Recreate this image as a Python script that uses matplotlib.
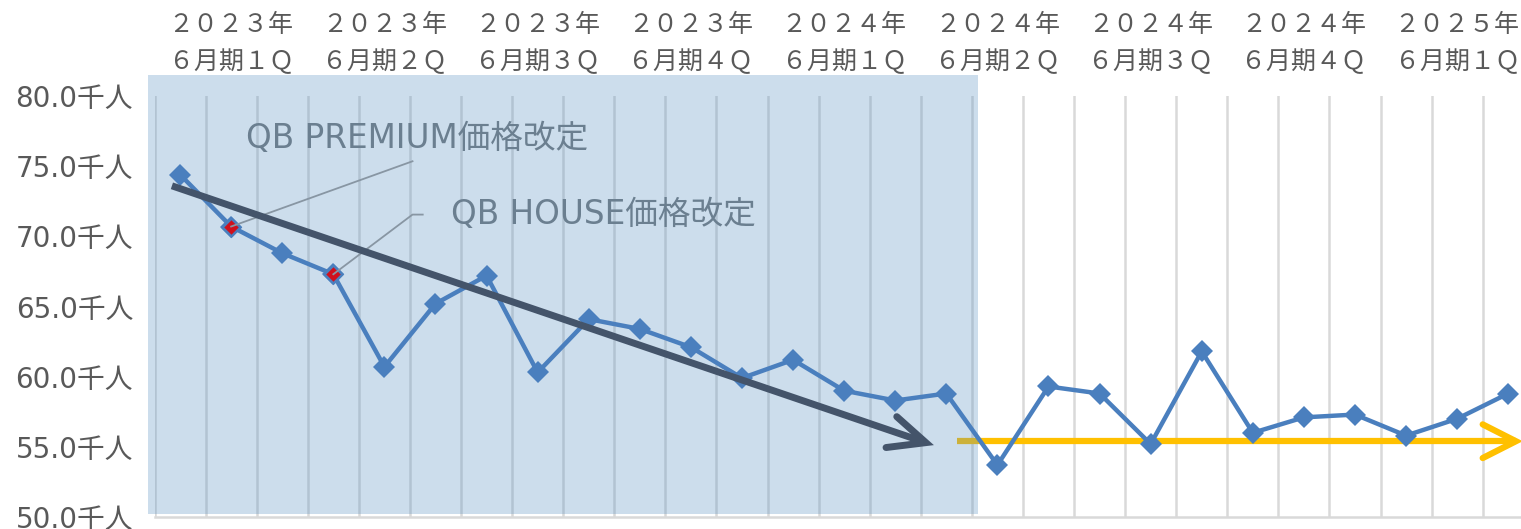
import matplotlib
matplotlib.use("Agg")
import matplotlib.pyplot as plt
from matplotlib.patches import Rectangle

plt.rcParams['font.family'] = ['Noto Sans CJK JP', 'DejaVu Sans']
LATIN_CJK = ['DejaVu Sans', 'Noto Sans CJK JP']

# ---- data ----
quarter_labels = ["２０２３年\n６月期１Ｑ", "２０２３年\n６月期２Ｑ", "２０２３年\n６月期３Ｑ",
                  "２０２３年\n６月期４Ｑ", "２０２４年\n６月期１Ｑ", "２０２４年\n６月期２Ｑ",
                  "２０２４年\n６月期３Ｑ", "２０２４年\n６月期４Ｑ", "２０２５年\n６月期１Ｑ"]
visitors = [74.4, 70.7, 68.8, 67.3, 60.7, 65.2, 67.2, 60.3, 64.1, 63.4, 62.1, 59.9,
            61.2, 59.0, 58.3, 58.8, 53.7, 59.3, 58.8, 55.2, 61.8, 56.0, 57.1, 57.3,
            55.8, 57.0, 58.8]
price_change_idx = [1, 3]
price_change_texts = ["QB PREMIUM価格改定", "QB HOUSE価格改定"]
y_ticks = [50, 55, 60, 65, 70, 75, 80]
trend_down = [(-0.16, 73.6), (14.6, 55.3)]
trend_flat = [(15.2, 55.4), (26.15, 55.4)]

n = len(visitors)
x = list(range(n))

fig = plt.figure(figsize=(15.21, 5.29), dpi=100)
ax = fig.add_axes([0.1016, 0.0227, 0.9068, 0.7958])

ax.set_xlim(-0.5, n - 0.5)
ax.set_ylim(50, 80)

# gridlines (vertical, between months)
ax.set_xticks([i - 0.5 for i in range(n + 1)], minor=True)
ax.set_xticks([3 * i + 1 for i in range(len(quarter_labels))])
ax.set_xticklabels(quarter_labels, fontsize=18, color='#595959', linespacing=1.55)
ax.xaxis.tick_top()
ax.tick_params(axis='x', which='both', length=0, pad=15)
ax.grid(axis='x', which='minor', color='#d9d9d9', linewidth=1.8, zorder=0)
ax.grid(axis='x', which='major', visible=False)

ax.set_yticks(y_ticks)
ax.set_yticklabels([f"{v:.1f}千人" for v in y_ticks], fontsize=20, color='#595959',
                   family=LATIN_CJK)
ax.tick_params(axis='y', length=0, pad=15.5)

for s in ['top', 'left', 'right']:
    ax.spines[s].set_visible(False)
ax.spines['bottom'].set_color('#d9d9d9')
ax.spines['bottom'].set_linewidth(1.8)
ax.set_axisbelow(True)

# flat (yellow) trend arrow
yc = '#ffc000'
(fx0, fy0), (fx1, fy1) = trend_flat
ax.plot([fx0, fx1], [fy0, fy1], color=yc, lw=4.5, solid_capstyle='butt', zorder=2, clip_on=False)
ax.plot([fx1 - 0.65, fx1, fx1 - 0.65], [fy1 + 1.2, fy1, fy1 - 1.2], color=yc, lw=4.5,
        solid_capstyle='round', solid_joinstyle='miter', zorder=2, clip_on=False)

# shaded past period
ax.add_patch(Rectangle((-0.625, 50.2), 16.25, 31.3, facecolor=(88/255, 145/255, 195/255),
                       alpha=0.3, edgecolor='none', zorder=3, clip_on=False))

# data line
ax.plot(x, visitors, color='#4a7fbe', lw=3.2, marker='D', markersize=11,
        markeredgewidth=0, zorder=5, clip_on=False)
for i in price_change_idx:
    ax.plot(x[i], visitors[i], marker='D', markersize=9.5, color='#d0101c',
            markeredgecolor='#4a7fbe', markeredgewidth=1.8, zorder=6)

# down trend arrow
dc = '#44546a'
(dx0, dy0), (dx1, dy1) = trend_down
ax.plot([dx0, dx1], [dy0, dy1], color=dc, lw=5, solid_capstyle='butt', zorder=7)
ax.plot([dx1 - 0.78, dx1, dx1 - 0.57], [dy1 - 0.35, dy1, dy1 + 1.85], color=dc, lw=5,
        solid_capstyle='round', solid_joinstyle='miter', zorder=7)

# annotations
tc = '#6b7f90'
ax.plot([x[1], 4.55], [visitors[1], 75.35], color='#8896a3', lw=1.3, zorder=6)
ax.text(1.29, 77.0, price_change_texts[0], fontsize=23.5, color=tc, va='center', ha='left',
        zorder=8, family=LATIN_CJK)
ax.plot([x[3], 4.55, 4.75], [visitors[3], 71.55, 71.55], color='#8896a3', lw=1.3, zorder=6)
ax.text(5.3, 71.55, price_change_texts[1], fontsize=23.5, color=tc, va='center', ha='left',
        zorder=8, family=LATIN_CJK)

fig.savefig('out.png', dpi=100)
